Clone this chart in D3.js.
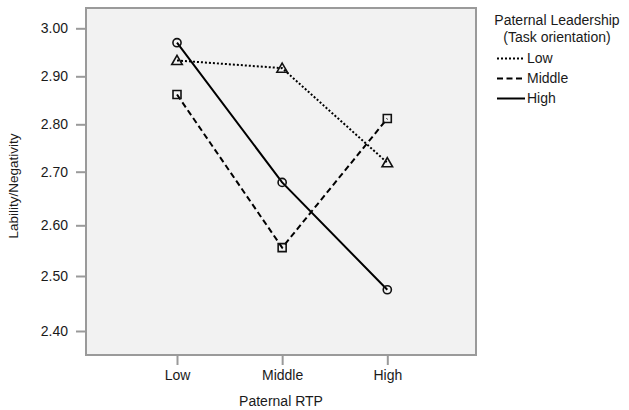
<html>
<head>
    <title>Lability/Negativity by Paternal RTP</title>
    <style>
        body { margin: 0; background: #fff; }
        text { font-family: "Liberation Sans", Arial, sans-serif; fill: #1a1a1a; }
        g.axis path.domain { display: none; }
        g.axis line { stroke: #9a9a9a; stroke-width: 2; }
        g.axis text { font-size: 14px; }
        path.series { fill: none; stroke: #000; stroke-width: 2; }
        .marker { fill: none; stroke: #111; stroke-width: 1.6; }
    </style>
</head>
<body>
<div id="target"></div>
<script src="https://cdnjs.cloudflare.com/ajax/libs/d3/7.8.5/d3.min.js"></script>
<script>
    // categories on the x axis (Paternal RTP)
    var categories = ['Low', 'Middle', 'High'];

    // means per paternal leadership (task orientation) group
    var lowValues = [2.933, 2.917, 2.719];
    var middleValues = [2.862, 2.556, 2.812];
    var highValues = [2.970, 2.680, 2.475];

    var yTicks = [2.40, 2.50, 2.60, 2.70, 2.80, 2.90, 3.00];

    var seriesNames = ['Low', 'Middle', 'High'];
    var seriesValues = [lowValues, middleValues, highValues];

    var W = 629, H = 410;
    var plot = {left: 86, right: 476, top: 8, bottom: 355};

    var svg = d3.select('#target').append('svg')
        .attr('width', W)
        .attr('height', H);

    // x positions of the three categories
    var x = d3.scaleLinear()
        .domain([0, categories.length - 1])
        .range([177, 387.3]);

    // the source picture is slightly stretched, so the y axis uses one segment per tick step
    var y = d3.scaleLinear()
        .domain(yTicks)
        .range([331, 276, 225.3, 171.7, 124.3, 76.3, 28.3]);

    // plot background and frame
    svg.append('rect')
        .attr('x', plot.left)
        .attr('y', plot.top)
        .attr('width', plot.right - plot.left)
        .attr('height', plot.bottom - plot.top)
        .attr('fill', '#f2f2f2')
        .attr('stroke', '#9a9a9a')
        .attr('stroke-width', 2);

    var yAxis = svg.append('g')
        .attr('class', 'axis')
        .attr('transform', 'translate(' + plot.left + ',0)')
        .call(d3.axisLeft(y).tickValues(yTicks).tickFormat(d3.format('.2f')).tickSize(10).tickPadding(8));

    var xAxis = svg.append('g')
        .attr('class', 'axis')
        .attr('transform', 'translate(0,' + plot.bottom + ')')
        .call(d3.axisBottom(x).tickValues(d3.range(categories.length))
            .tickFormat(function (i) { return categories[i]; })
            .tickSize(10).tickPadding(5));

    // axis titles
    svg.append('text')
        .attr('x', 281)
        .attr('y', 406)
        .attr('text-anchor', 'middle')
        .style('font-size', '14px')
        .text('Paternal RTP');

    svg.append('text')
        .attr('transform', 'translate(18,186) rotate(-90)')
        .attr('text-anchor', 'middle')
        .style('font-size', '13.5px')
        .text('Lability/Negativity');

    // line styles and marker shapes per group
    var dashes = ['2,2', '6,3.5', null];
    var symbols = [d3.symbolTriangle, d3.symbolSquare, d3.symbolCircle];
    var symbolSizes = [48, 64, 52];

    var line = d3.line()
        .x(function (d, i) { return x(i); })
        .y(function (d) { return y(d); });

    var gSeries = svg.append('g').attr('class', 'series-group');

    seriesValues.forEach(function (values, s) {
        gSeries.append('path')
            .datum(values)
            .attr('class', 'series')
            .attr('stroke-dasharray', dashes[s])
            .attr('d', line);
    });

    seriesValues.forEach(function (values, s) {
        gSeries.selectAll('path.marker.m' + s)
            .data(values)
            .enter()
            .append('path')
            .attr('class', 'marker m' + s)
            .attr('transform', function (d, i) {
                // triangle centroid sits low, nudge it up a touch
                var dy = s === 0 ? 1 : 0;
                return 'translate(' + x(i) + ',' + (y(d) + dy) + ')';
            })
            .attr('d', d3.symbol().type(symbols[s]).size(symbolSizes[s]));
    });

    // legend
    var gLegend = svg.append('g').attr('class', 'legend');
    gLegend.append('text')
        .attr('x', 557)
        .attr('y', 25)
        .attr('text-anchor', 'middle')
        .style('font-size', '14px')
        .text('Paternal Leadership');
    gLegend.append('text')
        .attr('x', 557)
        .attr('y', 42)
        .attr('text-anchor', 'middle')
        .style('font-size', '14px')
        .text('(Task orientation)');

    var items = gLegend.selectAll('g.item')
        .data(seriesNames)
        .enter()
        .append('g')
        .attr('class', 'item')
        .attr('transform', function (d, i) { return 'translate(0,' + (63 + i * 20) + ')'; });

    items.append('line')
        .attr('x1', 497)
        .attr('x2', 525)
        .attr('y1', -4.5)
        .attr('y2', -4.5)
        .attr('stroke', '#000')
        .attr('stroke-width', 2)
        .attr('stroke-dasharray', function (d, i) { return dashes[i]; });

    items.append('text')
        .attr('x', 527)
        .attr('y', 0)
        .style('font-size', '14px')
        .text(function (d) { return d; });
</script>
</body>
</html>
